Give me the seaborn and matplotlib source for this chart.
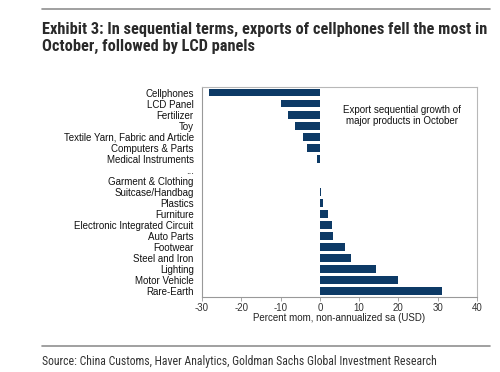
import matplotlib
matplotlib.use("Agg")
import matplotlib.pyplot as plt
import seaborn as sns
import pandas as pd

categories = ["Cellphones", "LCD Panel", "Fertilizer", "Toy", "Textile Yarn, Fabric and Article",
              "Computers & Parts", "Medical Instruments", "...", "Garment & Clothing",
              "Suitcase/Handbag", "Plastics", "Furniture", "Electronic Integrated Circuit",
              "Auto Parts", "Footwear", "Steel and Iron", "Lighting", "Motor Vehicle", "Rare-Earth"]
values = [-28.2, -10.0, -8.2, -6.3, -4.2, -3.2, -0.8, 0.0, 0.1, 0.4, 0.9, 2.0, 3.2, 3.4,
          6.4, 7.9, 14.4, 19.9, 31.0]
xticks = [-30, -20, -10, 0, 10, 20, 30, 40]

df = pd.DataFrame({"cat": categories, "val": values})

sns.set_theme(style="white")
plt.rcParams["font.family"] = ["Liberation Sans", "DejaVu Sans"]
narrow = "Roboto Condensed"

fig = plt.figure(figsize=(5.0, 3.72), dpi=100)
ax = fig.add_axes([0.404, 0.202, 0.55, 0.564])
sns.barplot(data=df, x="val", y="cat", order=categories, orient="h", color="#0d3a66",
            saturation=1, width=0.7, linewidth=0, ax=ax)
ax.set_xlim(-30, 40)
ax.set_ylim(len(categories) - 0.5, -0.5)
ax.set_xticks(xticks)
ax.set_xticklabels([str(t) for t in xticks], fontsize=7, color="#333333")
ax.tick_params(axis="y", labelsize=7, length=0, pad=6, labelcolor="#111111")
ax.tick_params(axis="x", length=3, width=0.6, color="#999999", direction="out", pad=1.5, bottom=True)
ax.set_ylabel("")
ax.set_xlabel("Percent mom, non-annualized sa (USD)", fontsize=7, color="#222222", labelpad=0)
for s in ax.spines.values():
    s.set_visible(True)
    s.set_color("#b8b8b8")
    s.set_linewidth(0.8)
ax.spines["left"].set_color("#999999")
ax.spines["bottom"].set_color("#999999")

ax.text(0.727, 0.915, "Export sequential growth of\nmajor products in October", transform=ax.transAxes,
        ha="center", va="top", fontsize=7, color="#111111", linespacing=1.1)

fig.add_artist(plt.Line2D([0.084, 0.98], [1 - 9 / 372, 1 - 9 / 372], color="#909090", lw=1.2))
fig.text(0.084, 1 - 38 / 372, "Exhibit 3: In sequential terms, exports of cellphones fell the most in\nOctober, followed by LCD panels",
         ha="left", va="center", fontsize=11.8, fontweight="bold", family=[narrow, "DejaVu Sans"],
         color="#2a2a2a", linespacing=1.15)
fig.add_artist(plt.Line2D([0.084, 0.98], [1 - 346 / 372, 1 - 346 / 372], color="#909090", lw=1.2))
fig.text(0.084, 1 - 362 / 372, "Source: China Customs, Haver Analytics, Goldman Sachs Global Investment Research",
         ha="left", va="center", fontsize=8.45, family=[narrow, "DejaVu Sans"], color="#333333")

fig.savefig("out.png", dpi=100, facecolor="white")
